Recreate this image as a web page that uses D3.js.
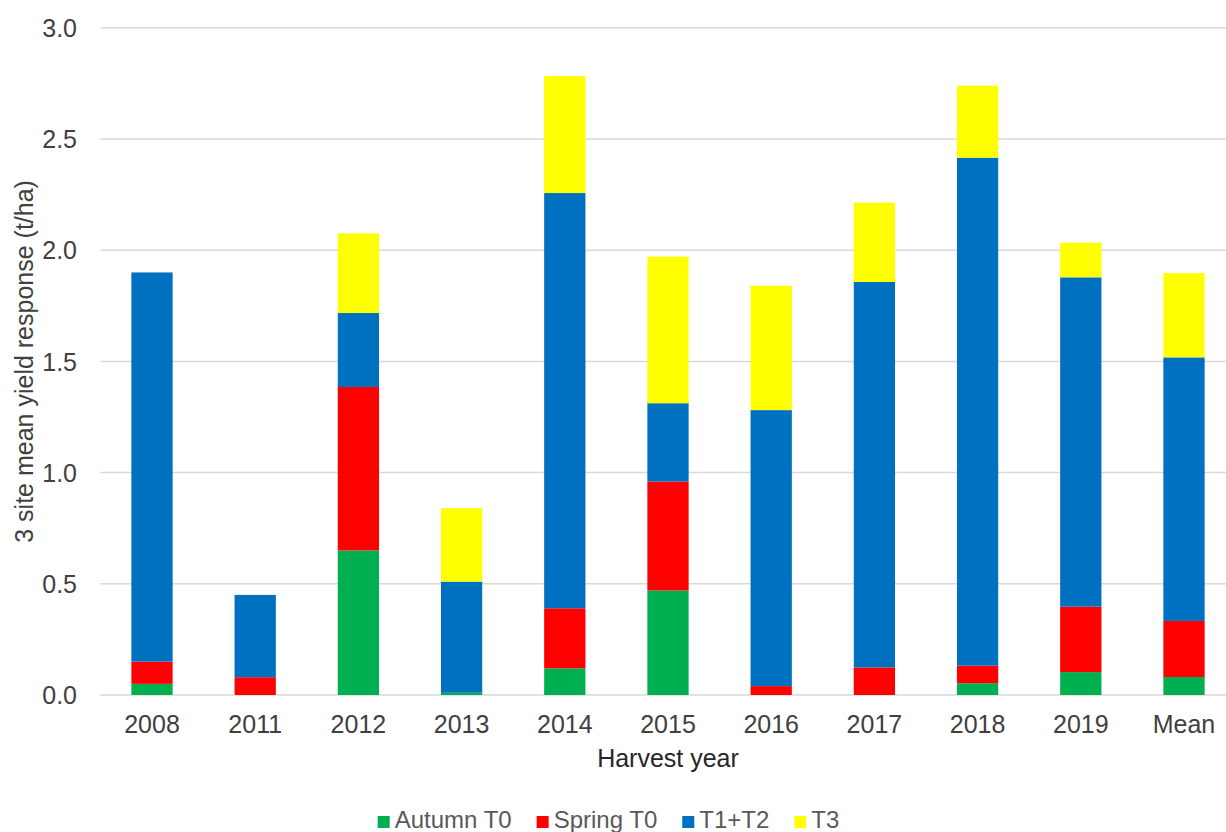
<!DOCTYPE html>
<html>
<head>
<meta charset="utf-8">
<script src="https://cdn.jsdelivr.net/npm/d3@7"></script>
<style>
  html, body { margin: 0; padding: 0; background: #fff; }
  svg { display: block; font-family: "Liberation Sans", Arial, sans-serif; }
</style>
</head>
<body>
<svg id="chart" width="1226" height="832"></svg>
<script>
// Harvest years plus the overall mean
const categories = ["2008", "2011", "2012", "2013", "2014", "2015", "2016", "2017", "2018", "2019", "Mean"];

// Yield response (t/ha) attributed to each fungicide timing
const autumnT0 = [0.05, 0.00, 0.65, 0.01, 0.12, 0.47, 0.00, 0.00, 0.053, 0.103, 0.081];
const springT0 = [0.10, 0.08, 0.735, 0.00, 0.27, 0.49, 0.04, 0.124, 0.079, 0.294, 0.252];
const t1t2     = [1.75, 0.37, 0.333, 0.50, 1.867, 0.352, 1.241, 1.733, 2.284, 1.481, 1.185];
const t3       = [0.00, 0.00, 0.358, 0.33, 0.526, 0.659, 0.559, 0.357, 0.324, 0.156, 0.379];

const seriesNames = ["Autumn T0", "Spring T0", "T1+T2", "T3"];
const seriesColors = ["#00b050", "#ff0000", "#0070c0", "#ffff00"];
const yTicks = [0, 0.5, 1.0, 1.5, 2.0, 2.5, 3.0];

const seriesValues = [autumnT0, springT0, t1t2, t3];
const rows = categories.map((c, i) => {
  const r = { category: c };
  seriesNames.forEach((s, j) => { r[s] = seriesValues[j][i]; });
  return r;
});

const svg = d3.select("#chart");
const W = 1226, H = 832;
const plot = { left: 100.4, right: 1235.6, top: 27.8, bottom: 695 };
const fontSize = 25;

const x = d3.scaleBand()
  .domain(categories)
  .range([plot.left, plot.right])
  .paddingInner(0.6)
  .paddingOuter(0.3);

const y = d3.scaleLinear()
  .domain([0, 3])
  .range([plot.bottom, plot.top]);

// Horizontal gridlines (the zero line doubles as the category axis)
svg.append("g")
  .selectAll("line")
  .data(yTicks)
  .join("line")
  .attr("x1", plot.left)
  .attr("x2", W)
  .attr("y1", d => y(d))
  .attr("y2", d => y(d))
  .attr("stroke", "#d9d9d9")
  .attr("stroke-width", 1.5);

// Value axis labels
const yAxis = d3.axisLeft(y).tickValues(yTicks).tickFormat(d3.format(".1f")).tickSize(0).tickPadding(0);
const yg = svg.append("g").attr("transform", `translate(77,0)`).call(yAxis);
yg.select(".domain").remove();
yg.selectAll("text")
  .attr("font-size", fontSize)
  .attr("font-family", "Liberation Sans, Arial, sans-serif")
  .attr("fill", "#404040")
  .attr("dy", "0.35em");

// Stacked bars
const stack = d3.stack().keys(seriesNames);
const layers = stack(rows);

svg.append("g")
  .selectAll("g")
  .data(layers)
  .join("g")
  .attr("fill", (d, i) => seriesColors[i])
  .selectAll("rect")
  .data(d => d)
  .join("rect")
  .attr("x", d => x(d.data.category))
  .attr("width", x.bandwidth())
  .attr("y", d => y(d[1]))
  .attr("height", d => Math.max(0, y(d[0]) - y(d[1])));

// Category axis labels
const xAxis = d3.axisBottom(x).tickSize(0).tickPadding(0);
const xg = svg.append("g").attr("transform", `translate(0,${plot.bottom})`).call(xAxis);
xg.select(".domain").remove();
xg.selectAll("text")
  .attr("font-size", fontSize)
  .attr("font-family", "Liberation Sans, Arial, sans-serif")
  .attr("fill", "#404040")
  .attr("dy", null)
  .attr("y", 38);

// Axis titles
svg.append("text")
  .attr("x", (plot.left + plot.right) / 2)
  .attr("y", 767)
  .attr("text-anchor", "middle")
  .attr("font-size", fontSize)
  .attr("fill", "#262626")
  .text("Harvest year");

svg.append("text")
  .attr("transform", `translate(33,${(plot.top + plot.bottom) / 2}) rotate(-90)`)
  .attr("text-anchor", "middle")
  .attr("font-size", fontSize)
  .attr("fill", "#404040")
  .text("3 site mean yield response (t/ha)");

// Legend, laid out from the measured label widths and centred on the figure
const legend = svg.append("g");
const sw = 12, gapText = 5, gapItem = 25, legendFont = 24;
const items = seriesNames.map((name, i) => {
  const g = legend.append("g");
  g.append("rect").attr("width", sw).attr("height", sw).attr("y", -12).attr("fill", seriesColors[i]);
  const t = g.append("text")
    .attr("x", sw + gapText)
    .attr("font-size", legendFont)
    .attr("fill", "#595959")
    .text(name);
  return { g, w: sw + gapText + t.node().getComputedTextLength() };
});
const total = d3.sum(items, d => d.w) + gapItem * (items.length - 1);
let cx = 608.5 - total / 2;
items.forEach(it => {
  it.g.attr("transform", `translate(${cx},828)`);
  cx += it.w + gapItem;
});
</script>
</body>
</html>
